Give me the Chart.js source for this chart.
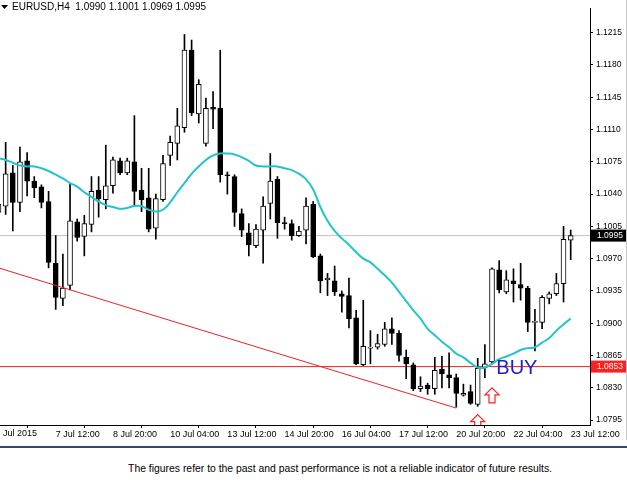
<!DOCTYPE html>
<html>
<head>
<meta charset="utf-8">
<script src="https://cdn.jsdelivr.net/npm/chart.js@4.4.0/dist/chart.umd.min.js"></script>
<style>
  body { margin: 0; background: #fff; width: 627px; height: 493px; overflow: hidden; position: relative; }
  #wrap { position: absolute; left: 0; top: 0; width: 627px; height: 446px; }
  #rule { position: absolute; left: 0; top: 446px; width: 627px; height: 0; border-top: 2px solid #2b4d6c; }
  #edge { position: absolute; left: 626px; top: 0; width: 1px; height: 440px; background: #c8c8c8; }
  #note { position: absolute; left: 0; top: 463px; width: 680px; text-align: center; font: 10.4px "Liberation Sans", Arial, sans-serif; color: #000; }
</style>
</head>
<body>
<div id="wrap"><canvas id="chart" width="627" height="446"></canvas></div>
<div id="edge"></div>
<div id="rule"></div>
<div id="note">The figures refer to the past and past performance is not a reliable indicator of future results.</div>
<script>
// H4 EURUSD candles, bar 0 = 6 Jul 04:00
const opens = [1.1020,1.1027,1.1063,1.1031,1.1076,1.1054,1.1048,1.1032,1.0965,1.0927,
  1.0941,1.1010,1.0994,1.1007,1.1044,1.1034,1.1049,1.1076,1.1063,1.1075,
  1.1044,1.1036,1.1003,1.1034,1.1082,1.1095,1.1112,1.1196,1.1127,1.1095,
  1.1134,1.1133,1.1061,1.1059,1.1019,1.0998,1.0984,1.1001,1.1030,1.1056,
  1.1009,1.1008,1.0995,1.1001,1.1029,1.0973,1.0947,1.0946,1.0932,1.0930,
  1.0906,1.0855,1.0873,1.0874,1.0877,1.0894,1.0889,1.0863,1.0855,1.0829,
  1.0833,1.0829,1.0850,1.0844,1.0841,1.0822,1.0826,1.0812,1.0852,1.0858,
  1.0958,1.0934,1.0946,1.0942,1.0938,1.0901,1.0901,1.0927,1.0932,1.0943,1.0990];
const highs = [1.1034,1.1096,1.1071,1.1091,1.1085,1.1059,1.1050,1.1043,1.0995,1.0975,
  1.1051,1.1013,1.1017,1.1059,1.1059,1.1093,1.1080,1.1079,1.1079,1.1125,
  1.1068,1.1068,1.1040,1.1082,1.1103,1.1133,1.1213,1.1207,1.1164,1.1144,
  1.1151,1.1196,1.1064,1.1061,1.1024,1.1008,1.1007,1.1037,1.1084,1.1059,
  1.1015,1.1012,1.1005,1.1036,1.1032,1.0975,1.0954,1.0962,1.0935,1.0949,
  1.0914,1.0925,1.0892,1.0888,1.0901,1.0906,1.0892,1.0871,1.0857,1.0842,
  1.0835,1.0863,1.0864,1.0868,1.0845,1.0834,1.0833,1.0862,1.0877,1.0960,
  1.0968,1.0957,1.0959,1.0965,1.0940,1.0915,1.0930,1.0934,1.0954,1.1005,1.1001];
const lows = [1.1013,1.1018,1.1000,1.1021,1.1038,1.1036,1.1025,1.0960,1.0915,1.0919,
  1.0936,1.0989,1.0973,1.0999,1.1015,1.1024,1.1041,1.1061,1.1061,1.1027,
  1.1021,1.0999,1.0991,1.1032,1.1071,1.1077,1.1107,1.1125,1.1117,1.1092,
  1.1111,1.1053,1.1040,1.1005,1.0994,1.0973,1.0982,1.0965,1.1013,1.0992,
  1.1002,1.0990,1.0994,1.0986,1.0971,1.0933,1.0930,1.0930,1.0912,1.0895,
  1.0855,1.0854,1.0856,1.0872,1.0875,1.0877,1.0859,1.0840,1.0827,1.0826,
  1.0823,1.0823,1.0830,1.0830,1.0809,1.0821,1.0812,1.0810,1.0841,1.0856,
  1.0933,1.0932,1.0923,1.0925,1.0891,1.0870,1.0894,1.0921,1.0930,1.0923,1.0969];
const closes = [1.1029,1.1062,1.1031,1.1075,1.1054,1.1047,1.1031,1.0966,1.0928,1.0938,
  1.1011,1.0993,1.1008,1.1043,1.1035,1.1049,1.1077,1.1063,1.1076,1.1043,
  1.1034,1.1002,1.1035,1.1073,1.1096,1.1114,1.1196,1.1128,1.1159,1.1133,
  1.1132,1.1061,1.1060,1.1020,1.1001,1.0985,1.1002,1.1027,1.1054,1.1009,
  1.1008,1.0995,1.1000,1.1027,1.0972,1.0946,1.0949,1.0934,1.0929,1.0905,
  1.0856,1.0875,1.0874,1.0878,1.0894,1.0889,1.0865,1.0856,1.0829,1.0832,
  1.0829,1.0849,1.0845,1.0841,1.0824,1.0824,1.0813,1.0851,1.0856,1.0959,
  1.0936,1.0947,1.0943,1.0938,1.0901,1.0902,1.0928,1.0932,1.0943,1.0991,1.0995];
// moving average
const maValues = [1.1079,1.1077,1.1074,1.1071,1.1070,1.1070,1.1068,1.1065,1.1061,1.1057,
  1.1052,1.1048,1.1042,1.1037,1.1032,1.1028,1.1026,1.1024,1.1025,1.1027,
  1.1027,1.1023,1.1021,1.1023,1.1031,1.1042,1.1052,1.1062,1.1070,1.1077,
  1.1082,1.1084,1.1084,1.1083,1.1080,1.1076,1.1071,1.1070,1.1070,1.1070,
  1.1068,1.1066,1.1062,1.1056,1.1045,1.1026,1.1011,1.1000,1.0992,1.0985,
  1.0977,1.0970,1.0966,1.0959,1.0952,1.0944,1.0934,1.0924,1.0914,1.0905,
  1.0894,1.0887,1.0880,1.0874,1.0867,1.0863,1.0857,1.0852,1.0852,1.0856,
  1.0861,1.0864,1.0867,1.0871,1.0873,1.0874,1.0879,1.0884,1.0892,1.0899,1.0905];
const dateLabels = {0:'6 Jul 2015', 8:'7 Jul 12:00', 16:'8 Jul 20:00', 24:'10 Jul 04:00', 32:'13 Jul 12:00',
  40:'14 Jul 20:00', 48:'16 Jul 04:00', 56:'17 Jul 12:00', 64:'20 Jul 20:00', 72:'22 Jul 04:00', 80:'23 Jul 12:00'};
const priceTicks = [1.0795,1.0830,1.0865,1.0900,1.0935,1.0970,1.1005,1.1040,1.1075,1.1110,1.1145,1.1180,1.1215];
const trendBars = [0, 64];
const trendPrices = [1.0960, 1.0808];
const supportLevel = 1.0853;
const lastPrice = 1.0995;
const arrowBars = [67, 69];
const arrowPrices = [1.0801, 1.0830];
const buyBar = 69.6, buyPrice = 1.0851;

const X_MIN = 0.21, X_MAX = 82.7;

const wickData = highs.map((h, i) => ({x: i, y: [lows[i], h]}));
const bodyData = opens.map((o, i) => ({x: i, y: [o, closes[i]]}));
const bodyColors = opens.map((o, i) => closes[i] >= o ? '#ffffff' : '#000000');

const overlay = {
  id: 'overlay',
  afterDatasetsDraw(chart) {
    const c = chart.ctx, xs = chart.scales.x, ys = chart.scales.y, a = chart.chartArea;
    // arrows
    c.save();
    c.beginPath(); c.rect(a.left, a.top, a.right - a.left, a.bottom - a.top); c.clip();
    c.strokeStyle = '#ff2020'; c.lineWidth = 1.2; c.fillStyle = '#fff';
    arrowBars.forEach((b, k) => {
      const x = xs.getPixelForValue(b), y = ys.getPixelForValue(arrowPrices[k]);
      c.beginPath();
      c.moveTo(x, y); c.lineTo(x + 7, y + 7); c.lineTo(x + 3, y + 7); c.lineTo(x + 3, y + 15);
      c.lineTo(x - 3, y + 15); c.lineTo(x - 3, y + 7); c.lineTo(x - 7, y + 7); c.closePath();
      c.fill(); c.stroke();
    });
    // BUY
    c.fillStyle = '#2020d0'; c.font = '20px "Liberation Sans", Arial, sans-serif';
    c.textBaseline = 'middle'; c.textAlign = 'left';
    c.fillText('BUY', xs.getPixelForValue(buyBar), ys.getPixelForValue(buyPrice));
    c.restore();
    // title
    c.save();
    c.font = '10px "Liberation Sans", Arial, sans-serif'; c.fillStyle = '#000'; c.textBaseline = 'middle';
    c.beginPath(); c.moveTo(1, 5); c.lineTo(8, 5); c.lineTo(4.5, 9); c.closePath(); c.fill();
    c.fillText('EURUSD,H4  1.0990 1.1001 1.0969 1.0995', 12, 7.5);
    // first date label, partly off the left edge
    c.font = '9px "Liberation Sans", Arial, sans-serif';
    c.fillText(dateLabels[0], xs.getPixelForValue(0) - 3, a.bottom + 9);
    // price tags
    [[lastPrice, '#000000'], [supportLevel, '#ff2020']].forEach(([p, col]) => {
      const y = ys.getPixelForValue(p);
      c.fillStyle = col; c.fillRect(a.right + 1, y - 6, 36, 12);
      c.fillStyle = '#fff'; c.font = '8.5px "Liberation Sans", Arial, sans-serif';
      c.fillText(p.toFixed(4), a.right + 7, y + 0.5);
    });
    c.restore();
  }
};

new Chart(document.getElementById('chart').getContext('2d'), {
  data: {
    datasets: [
      { type: 'line', order: 5, data: [{x: X_MIN, y: lastPrice}, {x: X_MAX, y: lastPrice}], borderColor: '#c0c0c0', borderWidth: 1, pointRadius: 0 },
      { type: 'line', order: 5, data: [{x: X_MIN, y: supportLevel}, {x: X_MAX, y: supportLevel}], borderColor: '#ee2222', borderWidth: 1, pointRadius: 0 },
      { type: 'line', order: 1, data: trendBars.map((b, i) => ({x: b, y: trendPrices[i]})), borderColor: '#ee2222', borderWidth: 1, pointRadius: 0 },
      { type: 'line', order: 0, data: maValues.map((v, i) => ({x: i, y: v})), borderColor: '#22c4cc', borderWidth: 2, pointRadius: 0, tension: 0.4 },
      { type: 'bar', order: 3, data: wickData, backgroundColor: '#000', barThickness: 1, grouped: false },
      { type: 'bar', order: 2, data: bodyData, backgroundColor: bodyColors, borderColor: '#000', borderWidth: 1,
        borderSkipped: false, barThickness: 5, grouped: false }
    ]
  },
  options: {
    responsive: false,
    animation: false,
    layout: { padding: 0 },
    plugins: { legend: { display: false }, tooltip: { enabled: false } },
    scales: {
      x: {
        type: 'linear', min: X_MIN, max: X_MAX, offset: false,
        afterBuildTicks: s => { s.ticks = Object.keys(dateLabels).map(k => ({value: +k})).filter(t => t.value >= X_MIN); },
        afterFit: s => { s.height = 21; },
        grid: { drawOnChartArea: false, tickLength: 3, color: '#000' },
        border: { color: '#000' },
        ticks: { align: 'start', maxRotation: 0, autoSkip: false, padding: 1, color: '#000',
          font: { family: 'Liberation Sans', size: 9 }, callback: v => dateLabels[v] || '' }
      },
      y: {
        position: 'right', min: 1.07897, max: 1.12416,
        afterBuildTicks: s => { s.ticks = priceTicks.map(v => ({value: v})); },
        afterFit: s => { s.width = 37; },
        grid: { drawOnChartArea: false, tickLength: 3, color: '#000' },
        border: { color: '#000' },
        ticks: { padding: 3, color: '#000', font: { family: 'Liberation Sans', size: 8.5 }, callback: v => v.toFixed(4) }
      }
    }
  },
  plugins: [overlay]
});
</script>
</body>
</html>
